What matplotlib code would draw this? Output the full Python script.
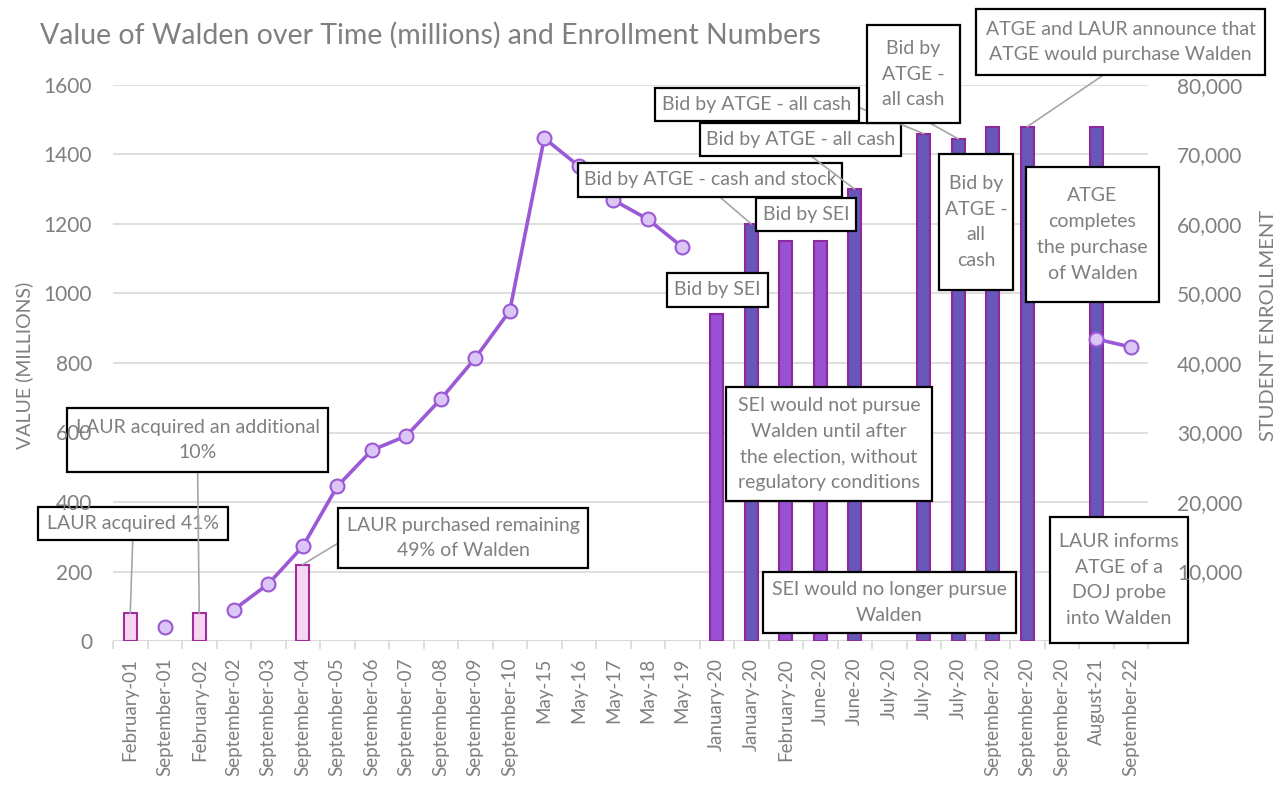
import matplotlib
matplotlib.use("Agg")
import matplotlib.pyplot as plt
from matplotlib.path import Path
import numpy as np

nan = np.nan

categories = ["February-01", "September-01", "February-02", "September-02", "September-03",
              "September-04", "September-05", "September-06", "September-07", "September-08",
              "September-09", "September-10", "May-15", "May-16", "May-17", "May-18", "May-19",
              "January-20", "January-20", "February-20", "June-20", "June-20", "July-20",
              "July-20", "July-20", "September-20", "September-20", "September-20",
              "August-21", "September-22"]

# Value of Walden (millions) - LAUR acquisitions
laur_value = [80, nan, 80, nan, nan, 220, nan, nan, nan, nan, nan, nan, nan, nan, nan, nan, nan,
              nan, nan, nan, nan, nan, nan, nan, nan, nan, nan, nan, nan, nan]
# SEI bids / events (millions)
sei_value = [nan] * 17 + [940, nan, 1150, 1150, nan, nan, nan, nan, nan, nan, nan, nan, nan]
# ATGE bids (millions)
atge_value = [nan] * 17 + [nan, 1200, nan, nan, 1300, nan, 1460, 1445, 1480, 1480, nan, 1480, nan]

# Student enrollment
enrollment = [nan, 2000, nan, 4500, 8200, 13600, 22250, 27450, 29500, 34800, 40700, 47500,
              72350, 68350, 63450, 60700, 56700,
              nan, nan, nan, nan, nan, nan, nan, nan, nan, nan, nan, 43450, 42300]

left_ticks = [0, 200, 400, 600, 800, 1000, 1200, 1400, 1600]
right_ticks = [0, 10000, 20000, 30000, 40000, 50000, 60000, 70000, 80000]

# event labels: (text, category index, which series)
events = [
    ("LAUR acquired 41%", 0, "laur"),
    ("LAUR acquired an additional\n10%", 2, "laur"),
    ("LAUR purchased remaining\n49% of Walden", 5, "laur"),
    ("Bid by SEI", 17, "sei"),
    ("Bid by ATGE - cash and stock", 18, "atge"),
    ("Bid by SEI", 19, "sei"),
    ("SEI would not pursue\nWalden until after\nthe election, without\nregulatory conditions", 20, "sei"),
    ("Bid by ATGE - all cash", 21, "atge"),
    ("SEI would no longer pursue\nWalden", 22, "none"),
    ("Bid by ATGE - all cash", 23, "atge"),
    ("Bid by\nATGE -\nall cash", 24, "atge"),
    ("Bid by\nATGE -\nall\ncash", 25, "atge"),
    ("ATGE and LAUR announce that\nATGE would purchase Walden", 26, "atge"),
    ("LAUR informs\nATGE of a\nDOJ probe\ninto Walden", 27, "none"),
    ("ATGE\ncompletes\nthe purchase\nof Walden", 28, "atge"),
]
# layout: box centre (image px), box size (px), leader-line start (relpos) or None
label_layout = [
    ((133, 523.5), (190, 33), (0.5, 0.0)),
    ((197.5, 440), (261, 64), (0.5, 0.0)),
    ((463, 538), (250, 60), (0.0, 0.5)),
    ((717.5, 289.5), (101, 34), None),
    ((710, 180), (264, 34), (0.5, 0.0)),
    ((806, 214.5), (100, 33), None),
    ((829, 444), (206, 114), None),
    ((800.5, 139.5), (201, 33), (0.5, 0.0)),
    ((889.5, 602.5), (253, 61), None),
    ((757, 104.5), (204, 33), (1.0, 0.5)),
    ((913, 74), (93, 98), (0.35, 0.0)),
    ((976, 222), (74, 136), None),
    ((1120.5, 42), (289, 66), (0.5, 0.0)),
    ((1119, 580), (138, 126), None),
    ((1092.5, 234.5), (133, 135), None),
]


class FixedBox:
    """Box style of a fixed pixel size, centred on the text."""

    def __init__(self, w, h):
        self.w, self.h = w, h

    def __call__(self, x0, y0, width, height, mutation_size):
        cx, cy = x0 + width / 2, y0 + height / 2
        w, h = self.w / 2, self.h / 2
        return Path([(cx - w, cy - h), (cx + w, cy - h), (cx + w, cy + h),
                     (cx - w, cy + h), (cx - w, cy - h)], closed=True)


W, H = 1283, 797
FONT = "Lato"
GRAY = "#7f7f7f"
plt.rcParams["font.family"] = [FONT, "DejaVu Sans"]

fig = plt.figure(figsize=(W / 100, H / 100), dpi=100)
rect = [113 / W, 1 - 641 / H, (1148 - 113) / W, (641 - 85) / H]
ax = fig.add_axes(rect)
ax2 = ax.twinx()

x = np.arange(len(categories))
bw = 0.37
ax.bar(x, laur_value, width=bw, color="#f6d6f0", edgecolor="#a02c9e", linewidth=1.5, zorder=3)
ax.bar(x, sei_value, width=bw, color="#9a50d3", edgecolor="#8b2a9e", linewidth=1.5, zorder=3)
ax.bar(x, atge_value, width=bw, color="#6657b8", edgecolor="#8e2a9c", linewidth=1.5, zorder=3)

ax2.plot(x, enrollment, color="#9b59d6", lw=2.6, marker="o", markersize=10,
         markerfacecolor="#dcc6f7", markeredgecolor="#9b59d6", markeredgewidth=1.5, zorder=4)

ax.set_xlim(-0.5, len(categories) - 0.5)
ax.set_ylim(0, 1600)
ax2.set_ylim(0, 80000)
ax.set_yticks(left_ticks)
ax2.set_yticks(right_ticks)
ax.tick_params(axis="y", length=0, labelleft=False)
ax2.tick_params(axis="y", length=0, labelright=False)

ax.grid(axis="y", color="#d9d9d9", lw=1.2, zorder=0)
ax.set_axisbelow(True)
for a in (ax, ax2):
    for s in ("top", "right", "left", "bottom"):
        a.spines[s].set_visible(False)
ax.axhline(0, color="#d9d9d9", lw=1.5, zorder=2)

ax.set_xticks(x)
ax.set_xticklabels(categories, rotation=90, fontsize=13.5, color=GRAY)
ax.set_xticks(np.arange(-0.5, len(categories)), minor=True)
ax.tick_params(axis="x", which="major", length=0, pad=12)
ax.tick_params(axis="x", which="minor", length=6, color="#d9d9d9", width=1.2)

fig.text(40 / W, 1 - 35 / H, "Value of Walden over Time (millions) and Enrollment Numbers",
         fontsize=20.5, color="#808080", ha="left", va="center")
fig.text(24 / W, 1 - 365 / H, "VALUE (MILLIONS)", rotation=90, fontsize=14, color=GRAY,
         ha="center", va="center")
fig.text(1269 / W, 1 - 325 / H, "STUDENT ENROLLMENT", rotation=90, fontsize=14.5, color=GRAY,
         ha="center", va="center")

series = {"laur": laur_value, "sei": sei_value, "atge": atge_value}
for (txt, idx, ser), ((cx, cy), (bwid, bhei), relpos) in zip(events, label_layout):
    val = series[ser][idx] if ser in series else 0
    kw = dict(xy=(idx, val), xycoords=ax.transData,
              xytext=(cx, H - cy), textcoords="figure pixels",
              ha="center", va="center", multialignment="center",
              fontsize=14, color=GRAY, linespacing=1.63, zorder=10,
              bbox=dict(boxstyle=FixedBox(bwid, bhei), fc="white", ec="black", lw=1.6),
              annotation_clip=False)
    if relpos is not None:
        kw["arrowprops"] = dict(arrowstyle="-", color="#a6a6a6", lw=1.2,
                                shrinkA=0, shrinkB=0, relpos=relpos)
    ax2.annotate(txt, **kw)

# tick labels drawn above the label boxes (as in the reference)
ax3 = fig.add_axes(rect, frameon=False)
ax3.set_xlim(ax.get_xlim())
ax3.set_xticks([])
ax3.set_ylim(0, 1600)
ax3.set_yticks(left_ticks)
ax3.set_yticklabels([str(v) for v in left_ticks])
ax3.tick_params(axis="y", length=0, pad=15, labelsize=15, labelcolor=GRAY)
ax4 = ax3.twinx()
for s in ("top", "right", "left", "bottom"):
    ax4.spines[s].set_visible(False)
ax4.set_ylim(0, 80000)
ax4.set_yticks(right_ticks)
ax4.set_yticklabels(["" if v == 0 else f"{v:,}" for v in right_ticks])
ax4.tick_params(axis="y", length=0, pad=21, labelsize=15, labelcolor=GRAY)

fig.savefig("out.png", dpi=100)
